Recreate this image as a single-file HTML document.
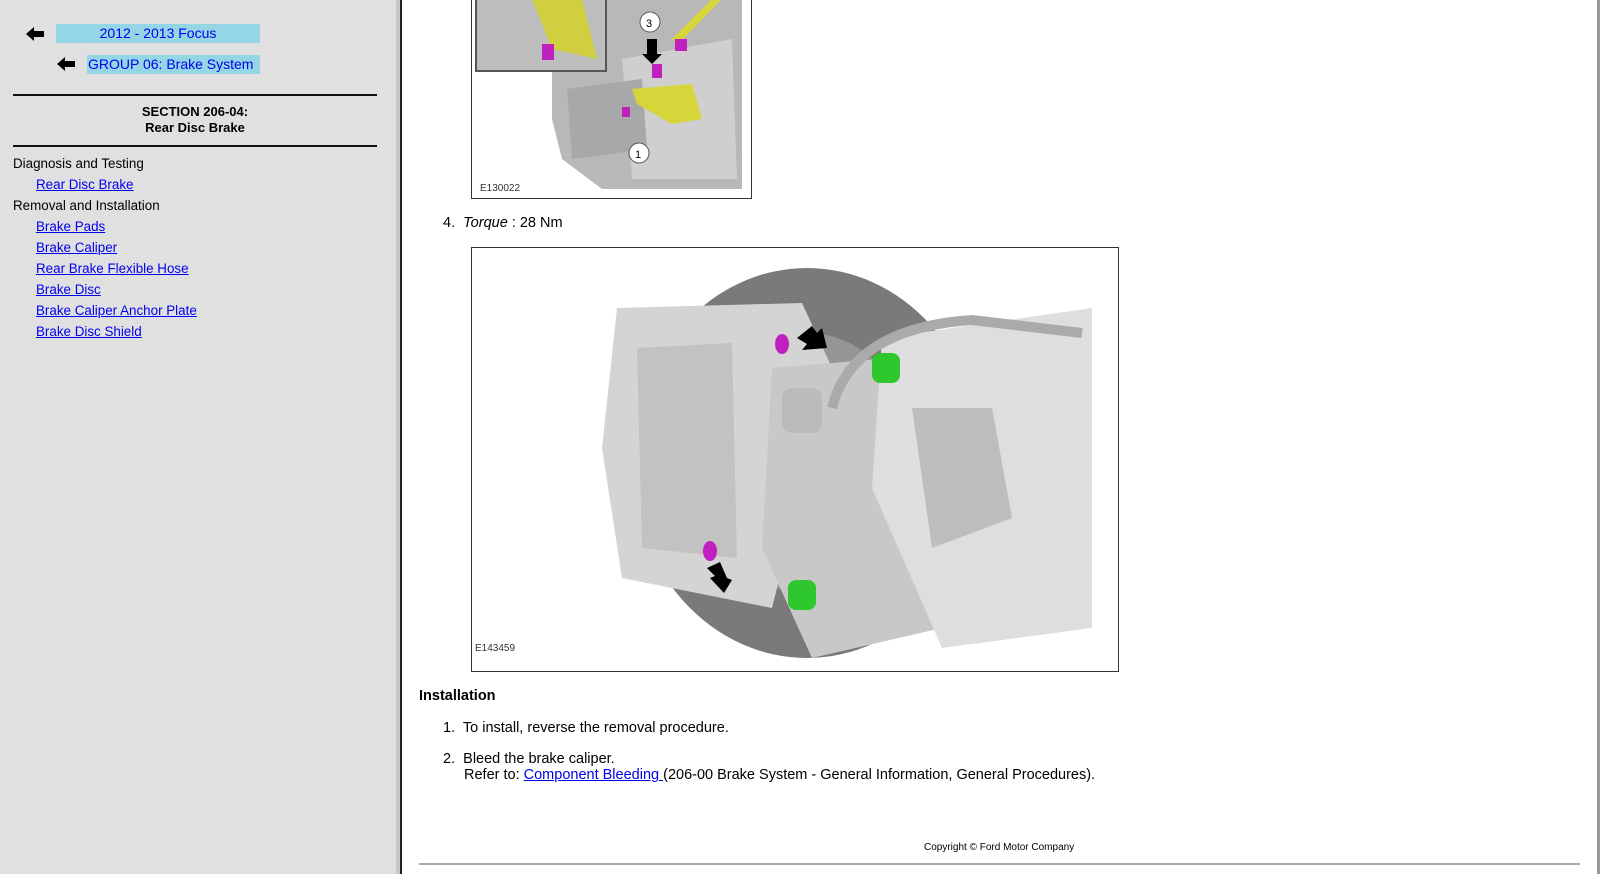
<!DOCTYPE html>
<html><head><meta charset="utf-8"><style>
*{margin:0;padding:0;box-sizing:border-box}
body{width:1600px;height:874px;overflow:hidden;background:#fff;font-family:"Liberation Sans",Arial,sans-serif;font-size:14px;color:#000;position:relative}
.side{position:absolute;left:0;top:0;width:396px;height:874px;background:#e0e0e0}
.div1{position:absolute;left:396px;top:0;width:4px;height:874px;background:#c8c8c8}
.div2{position:absolute;left:400px;top:0;width:2px;height:874px;background:#222}
.rb{position:absolute;left:1597px;top:0;width:3px;height:874px;background:#999}
.a{position:absolute;font-size:14.5px;line-height:17px;white-space:nowrap}
.s{font-size:13.4px}
a,.lk{color:#0000ee;text-decoration:underline}
.hl{position:absolute;background:#94d6e6;color:#0000ee;font-size:14px;line-height:19px}
.hr{position:absolute;left:13px;width:364px;height:2px;background:#111}
.arr{position:absolute;font-size:20px;line-height:20px}
.box{position:absolute;border:1px solid #333;background:#fff;overflow:hidden}
</style></head><body>
<div class="side"></div><div class="div1"></div><div class="div2"></div><div class="rb"></div>

<svg class="arr" style="left:26px;top:27px" width="18" height="14"><polygon points="0,7 8,0 8,4 18,4 18,10 8,10 8,14" fill="#000"/></svg>
<div class="hl" style="left:56px;top:24px;width:204px;text-align:center">2012 - 2013 Focus</div>
<svg class="arr" style="left:57px;top:57px" width="18" height="14"><polygon points="0,7 8,0 8,4 18,4 18,10 8,10 8,14" fill="#000"/></svg>
<div class="hl" style="left:87px;top:55px;width:173px;padding-left:1px">GROUP 06: Brake System</div>
<div class="hr" style="top:94px"></div>
<div class="a" style="left:13px;width:364px;top:104px;text-align:center;font-weight:bold;font-size:13px;line-height:16px">SECTION 206-04:<br>Rear Disc Brake</div>
<div class="hr" style="top:145px"></div>
<div class="a s" style="left:13px;top:155px">Diagnosis and Testing</div>
<div class="a s lk" style="left:36px;top:176px">Rear Disc Brake</div>
<div class="a s" style="left:13px;top:197px">Removal and Installation</div>
<div class="a s lk" style="left:36px;top:218px">Brake Pads</div>
<div class="a s lk" style="left:36px;top:239px">Brake Caliper</div>
<div class="a s lk" style="left:36px;top:260px">Rear Brake Flexible Hose</div>
<div class="a s lk" style="left:36px;top:281px">Brake Disc</div>
<div class="a s lk" style="left:36px;top:302px">Brake Caliper Anchor Plate</div>
<div class="a s lk" style="left:36px;top:323px">Brake Disc Shield</div>

<div class="box" style="left:471px;top:-2px;width:281px;height:201px">
<svg width="281" height="201">
<path d="M80,0 L270,0 L270,190 L130,190 L90,160 L80,120 Z" fill="#b8b8b8"/>
<path d="M150,60 L260,40 L265,180 L160,180 Z" fill="#cfcfcf"/>
<path d="M95,90 L170,80 L175,150 L100,160 Z" fill="#a8a8a8"/>
<path d="M240,0 L200,40 L205,46 L250,0Z" fill="#d6d63a"/>
<path d="M160,90 L220,85 L230,120 L200,125 L165,105Z" fill="#d6d63a"/>
<rect x="180" y="65" width="10" height="14" fill="#c020c0"/>
<rect x="203" y="40" width="12" height="12" fill="#c020c0"/>
<rect x="150" y="108" width="8" height="10" fill="#c020c0"/>
<polygon points="175,40 185,40 185,55 190,55 180,65 170,55 175,55" fill="#000"/>
<circle cx="178" cy="23" r="10" fill="#fff" stroke="#555"/><text x="174" y="28" font-size="11" font-family="Liberation Sans">3</text>
<circle cx="167" cy="154" r="10" fill="#fff" stroke="#555"/><text x="163" y="159" font-size="11" font-family="Liberation Sans">1</text>
<rect x="4" y="0" width="130" height="72" fill="#bdbdbd" stroke="#555" stroke-width="2"/>
<path d="M60,0 L110,0 L125,60 L80,50 Z" fill="#cfcf40"/>
<rect x="70" y="45" width="12" height="16" fill="#c020c0"/>
<text x="8" y="192" font-size="10" font-family="Liberation Sans" fill="#333">E130022</text>
</svg></div>

<div class="a" style="left:443px;top:215px">4.&nbsp; <i>Torque</i> : 28 Nm</div>

<div class="box" style="left:471px;top:247px;width:648px;height:425px">
<svg width="648" height="425">
<ellipse cx="335" cy="215" rx="175" ry="195" fill="#7a7a7a"/>
<ellipse cx="335" cy="215" rx="110" ry="130" fill="#969696"/>
<path d="M145,60 L330,55 L360,120 L300,360 L150,330 L130,200Z" fill="#d4d4d4"/>
<path d="M165,100 L260,95 L265,310 L170,300Z" fill="#c2c2c2"/>
<path d="M300,120 L420,110 L470,380 L340,410 L290,300Z" fill="#c8c8c8"/>
<path d="M410,90 L620,60 L620,380 L470,400 L400,240Z" fill="#dedede"/>
<path d="M440,160 L520,160 L540,270 L460,300Z" fill="#bdbdbd"/>
<path d="M360,160 Q380,80 500,72 L610,85" stroke="#aaa" stroke-width="10" fill="none"/>
<rect x="310" y="140" width="40" height="45" rx="10" fill="#bbb"/>
<ellipse cx="310" cy="96" rx="7" ry="10" fill="#c020c0"/>
<ellipse cx="238" cy="303" rx="7" ry="10" fill="#c020c0"/>
<polygon points="325,90 340,78 345,85 350,80 355,100 330,102 335,96" fill="#000"/>
<polygon points="235,320 248,314 255,330 260,332 252,345 238,330 243,328" fill="#000"/>
<rect x="400" y="105" width="28" height="30" rx="8" fill="#2ec82e"/>
<rect x="316" y="332" width="28" height="30" rx="8" fill="#2ec82e"/>
<text x="3" y="403" font-size="10" font-family="Liberation Sans" fill="#333">E143459</text>
</svg></div>

<div class="a" style="left:419px;top:688px;font-weight:bold">Installation</div>
<div class="a" style="left:443px;top:720px">1.&nbsp; To install, reverse the removal procedure.</div>
<div class="a" style="left:443px;top:751px">2.&nbsp; Bleed the brake caliper.</div>
<div class="a" style="left:464px;top:767px">Refer to: <span class="lk">Component Bleeding </span>(206-00 Brake System - General Information, General Procedures).</div>
<div class="a" style="left:924px;top:842px;font-size:10px;line-height:12px">Copyright © Ford Motor Company</div>
<div style="position:absolute;left:419px;top:863px;width:1161px;height:2px;background:#aaa"></div>
</body></html>
